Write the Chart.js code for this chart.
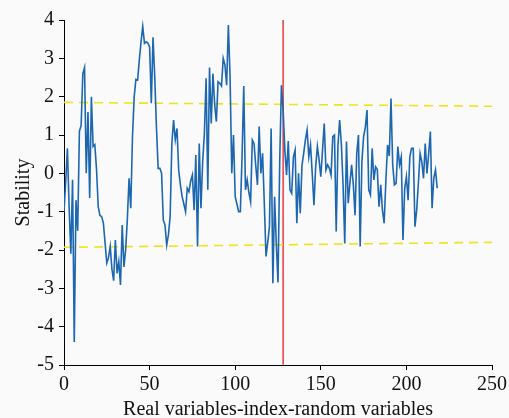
<!DOCTYPE html>
<html>
<head>
<meta charset="utf-8">
<script src="https://cdn.jsdelivr.net/npm/chart.js@4"></script>
<style>
  html, body { margin: 0; padding: 0; background: #fafafa; }
  #wrap { width: 509px; height: 418px; }
</style>
</head>
<body>
<div id="wrap"><canvas id="chart" width="509" height="418"></canvas></div>
<script>
// stability values, x = index 0..218
const stability = [
  -1.0, -0.2, 0.65, -0.9, -2.1, -0.17, -4.4, -0.7, -1.5, 1.1,
  1.25, 2.6, 2.76, 0.0, 1.6, -0.64, 2.0, 0.7, 0.75, 0.1,
  -0.87, -1.1, -1.13, -1.3, -1.82, -2.34, -2.2, -1.91, -2.5, -2.8,
  -1.74, -2.61, -2.3, -2.91, -1.35, -2.44, -2.0, -1.2, -0.13, -0.91,
  0.95, 2.0, 2.45, 2.43, 2.96, 3.43, 3.83, 3.39, 3.43, 3.4,
  3.3, 1.83, 3.55, 2.52, 1.2, 0.13, 0.13, 0.0, -1.22, -1.35,
  -1.87, -1.6, -1.13, 0.78, 1.39, 0.87, 1.17, 0.08, -0.3, -0.61,
  -0.8, -1.0, -0.39, -0.48, -0.2, -0.04, -0.96, 0.48, -1.91, 0.78,
  -0.91, 0.3, 1.04, 2.48, -0.43, 2.76, 1.3, 2.6, 1.8, 1.35,
  2.39, 2.35, 2.28, 3.0, 2.83, 2.3, 3.87, 2.52, 0.0, 1.0,
  -0.61, -0.8, -1.0, -1.0, 0.43, 2.28, -0.43, -0.17, -0.5, -0.74,
  0.87, 0.78, 0.2, -0.3, 1.22, 0.0, 0.52, -0.78, -2.17, -1.8,
  -1.39, 1.17, -2.87, -0.61, -1.83, -2.85, 0.3, 2.3, 1.65, 0.6,
  -0.04, 0.84, -0.43, -0.52, 0.43, 0.61, -1.3, 0.0, -1.04, 0.2,
  0.52, 0.87, 1.13, 0.43, 0.74, 0.0, -0.83, 0.17, 0.7, 0.35,
  -0.09, 0.6, 1.3, 0.09, 0.22, 0.13, -0.05, 0.96, 1.0, -1.52,
  0.7, 1.39, 0.78, -0.3, -1.83, 0.83, -0.78, -0.26, 0.22, -0.3,
  -1.09, 0.52, 1.0, -1.91, 0.3, 0.96, 1.2, 1.65, -0.43, -0.56,
  0.65, -0.17, 0.17, 0.1, -0.87, -0.3, -0.96, -1.3, -0.2, 0.74,
  0.45, 1.95, 0.22, -0.3, -0.26, 0.7, 0.22, 0.43, -1.74, -0.4,
  -0.09, -0.7, 0.43, 0.65, 0.65, -1.39, -0.96, -0.26, 0.52, 0.3,
  -0.13, 0.78, 0.0, 0.5, 1.09, -0.91, -0.13, 0.09, -0.39
];

// limit lines (x at start and end, y at start and end)
const limitX = [0, 250];
const upperLimit = [1.85, 1.75];
const lowerLimit = [-1.93, -1.8];

// split between real and random variables
const splitX = 128;
const yRange = [-5, 4];

const serif = "'Liberation Serif', 'DejaVu Serif', serif";

const ctx = document.getElementById('chart').getContext('2d');
new Chart(ctx, {
  type: 'line',
  data: {
    datasets: [
      {
        data: stability.map((v, i) => ({ x: i, y: v })),
        borderColor: '#1c67b0',
        borderWidth: 1.6,
        pointRadius: 0,
        tension: 0
      },
      {
        data: limitX.map((x, i) => ({ x: x, y: upperLimit[i] })),
        borderColor: '#f2e21c',
        borderWidth: 1.6,
        borderDash: [9, 6],
        pointRadius: 0
      },
      {
        data: limitX.map((x, i) => ({ x: x, y: lowerLimit[i] })),
        borderColor: '#f2e21c',
        borderWidth: 1.6,
        borderDash: [9, 6],
        pointRadius: 0
      },
      {
        data: yRange.map(y => ({ x: splitX, y: y })),
        borderColor: '#f0383e',
        borderWidth: 1.5,
        pointRadius: 0
      }
    ]
  },
  options: {
    responsive: false,
    animation: false,
    layout: { padding: { top: 20, right: 17, left: 0, bottom: 0 } },
    plugins: {
      legend: { display: false },
      tooltip: { enabled: false }
    },
    scales: {
      x: {
        type: 'linear',
        min: 0,
        max: 250,
        ticks: {
          stepSize: 50,
          color: '#111',
          font: { family: serif, size: 20, lineHeight: 1 },
          padding: 5,
          maxRotation: 0
        },
        grid: { drawOnChartArea: false, drawTicks: true, tickLength: 5, color: '#000' },
        border: { display: true, color: '#000', width: 1 },
        title: {
          display: true,
          text: 'Real variables-index-random variables',
          color: '#111',
          font: { family: serif, size: 20, lineHeight: 1 },
          padding: { top: 0, bottom: -2 }
        },
        afterFit: s => {
          s.height = 53;
          s.paddingRight = 0; // let layout padding alone decide the right edge
        }
      },
      y: {
        min: -5,
        max: 4,
        ticks: {
          stepSize: 1,
          color: '#111',
          font: { family: serif, size: 20, lineHeight: 1 },
          padding: 5
        },
        grid: { drawOnChartArea: false, drawTicks: true, tickLength: 5, color: '#000' },
        border: { display: true, color: '#000', width: 1 },
        title: {
          display: true,
          text: 'Stability',
          color: '#111',
          font: { family: serif, size: 20, lineHeight: 1 },
          padding: { top: 14, bottom: 4 }
        },
        afterFit: s => { s.width = 64; }
      }
    }
  }
});
</script>
</body>
</html>
